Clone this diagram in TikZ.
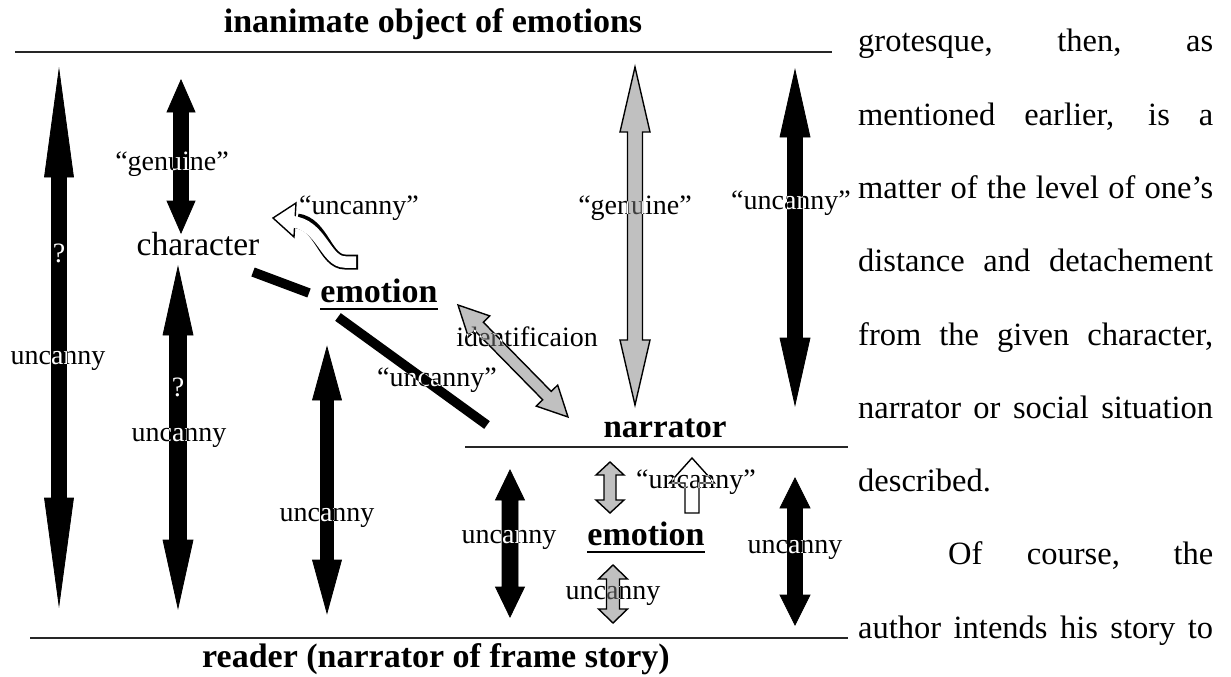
\documentclass[tikz,border=0pt]{standalone}
\usepackage{fontspec}
\setmainfont{Liberation Serif}
\usetikzlibrary{calc}
\definecolor{arrowgray}{RGB}{192,192,192}
% double block arrow: #1 style, #2 end A, #3 end B, #4 head length, #5 head half width, #6 shaft half width
\newcommand{\BDArrow}[6]{%
  \draw[#1] (#2) -- ($(#2)!#4!(#3)!#5!90:(#3)$) -- ($(#2)!#4!(#3)!#6!90:(#3)$)
    -- ($(#3)!#4!(#2)!#6!-90:(#2)$) -- ($(#3)!#4!(#2)!#5!-90:(#2)$) -- (#3)
    -- ($(#3)!#4!(#2)!#5!90:(#2)$) -- ($(#3)!#4!(#2)!#6!90:(#2)$)
    -- ($(#2)!#4!(#3)!#6!-90:(#3)$) -- ($(#2)!#4!(#3)!#5!-90:(#3)$) -- cycle;}
% single block arrow: #2 tail, #3 tip
\newcommand{\BSArrow}[6]{%
  \draw[#1] (#3) -- ($(#3)!#4!(#2)!#5!90:(#2)$) -- ($(#3)!#4!(#2)!#6!90:(#2)$)
    -- ($(#2)!#6!-90:(#3)$) -- ($(#2)!#6!90:(#3)$)
    -- ($(#3)!#4!(#2)!#6!-90:(#2)$) -- ($(#3)!#4!(#2)!#5!-90:(#2)$) -- cycle;}
\begin{document}
\begin{tikzpicture}[x=1pt,y=-1pt,
  blk/.style={fill=black,draw=black,line width=0.8pt,line join=miter},
  gry/.style={fill=arrowgray,draw=black,line width=1.4pt},
  hol/.style={fill=white,draw=black,line width=1.4pt},
  rulex/.style={line width=2.2pt,draw=black!85},
  barx/.style={line width=9.5pt,draw=black},
  lbl/.style={font=\fontsize{28}{30}\selectfont,inner sep=0pt,anchor=base,text=white,blend mode=difference},
  headx/.style={font=\bfseries\fontsize{34}{36}\selectfont,inner sep=0pt,anchor=base},
  body/.style={font=\fontsize{32.5}{34}\selectfont,inner sep=0pt,anchor=base west}]
\useasboundingbox (0,0) rectangle (1231,677);
\fill[white] (0,0) rectangle (1231,677);

% rules
\coordinate (topL) at (15,52);   \coordinate (topR) at (832,52);
\coordinate (narL) at (465,447); \coordinate (narR) at (848,447);
\coordinate (botL) at (30,638);  \coordinate (botR) at (848,638);
\draw[rulex] (topL) -- (topR);
\draw[rulex] (narL) -- (narR);
\draw[rulex] (botL) -- (botR);

% headings and main nodes
\node[headx] (inanimate) at (433,33) {inanimate object of emotions};
\node[headx] (reader) at (436,667) {reader (narrator of frame story)};
\node[headx,font=\bfseries\fontsize{33}{35}\selectfont] (narrator) at (665,437) {narrator};
\node[headx] (emoA) at (379,302) {emotion};
\draw[line width=2pt] ([yshift=-6.5pt]emoA.base west) -- ([yshift=-6.5pt]emoA.base east);
\node[headx] (emoB) at (646,545) {emotion};
\draw[line width=2pt] ([yshift=-7pt]emoB.base west) -- ([yshift=-7pt]emoB.base east);
\node[font=\fontsize{33.5}{35}\selectfont,inner sep=0pt,anchor=base] (character) at (198,255) {character};

% arrow end points
\coordinate (a1t) at (59,70);   \coordinate (a1b) at (59,605);
\coordinate (a2t) at (181,80);  \coordinate (a2b) at (181,233);
\coordinate (a3t) at (178,267); \coordinate (a3b) at (178,608);
\coordinate (a4t) at (327,347); \coordinate (a4b) at (327,613);
\coordinate (a5t) at (635,67);  \coordinate (a5b) at (635,405);
\coordinate (a6t) at (795,70);  \coordinate (a6b) at (795,405);
\coordinate (a7t) at (458,305); \coordinate (a7b) at (568,417);
\coordinate (a8t) at (510,470); \coordinate (a8b) at (510,617);
\coordinate (a9t) at (795,478); \coordinate (a9b) at (795,625);
\coordinate (g1t) at (610,462); \coordinate (g1b) at (610,513);
\coordinate (g2t) at (613,565); \coordinate (g2b) at (613,623);
\coordinate (w1tail) at (692,513); \coordinate (w1tip) at (692,458);

\BDArrow{blk}{a1t}{a1b}{107pt}{14.5pt}{7.5pt}
\BDArrow{blk}{a2t}{a2b}{32pt}{14pt}{7.5pt}
\BDArrow{blk}{a3t}{a3b}{68pt}{15pt}{8.5pt}
\BDArrow{blk}{a4t}{a4b}{53pt}{14.5pt}{6.5pt}
\BDArrow{gry}{a5t}{a5b}{65pt}{15pt}{7.5pt}
\BDArrow{blk}{a6t}{a6b}{67pt}{15pt}{7.5pt}
\BDArrow{gry}{a7t}{a7b}{30pt}{15pt}{6pt}
\BDArrow{blk}{a8t}{a8b}{30pt}{14.5pt}{8pt}
\BDArrow{blk}{a9t}{a9b}{30pt}{15pt}{7.5pt}
\BDArrow{gry}{g1t}{g1b}{13pt}{14pt}{6pt}
\BDArrow{gry}{g2t}{g2b}{14pt}{14.5pt}{6.5pt}
\BSArrow{hol}{w1tail}{w1tip}{25pt}{22.5pt}{7pt}

% thick connector bars
\coordinate (b1a) at (253,272); \coordinate (b1b) at (309,293);
\coordinate (b2a) at (338,317); \coordinate (b2b) at (487,425);
\draw[barx] (b1a) -- (b1b);
\draw[barx] (b2a) -- (b2b);

% curved hollow arrow
\coordinate (cvT) at (358,262); \coordinate (cvH) at (273,218);
\draw[line width=15pt] (cvT) -- (345,262) .. controls (325,262) and (322,224) .. (297,221);
\draw[hol] (cvH) -- (296,203) -- (294,237) -- cycle;
\draw[white,line width=11.5pt,shorten <=1.8pt] (cvT) -- (345,262) .. controls (325,262) and (322,224) .. (291,221.5);

% labels
\node[lbl] (q1) at (59,262) {?};
\node[lbl] (u1) at (58,364) {uncanny};
\node[lbl] (gen1) at (172,170) {“genuine”};
\node[lbl] (q2) at (178,396) {?};
\node[lbl] (u2) at (179,441) {uncanny};
\node[lbl] (u3) at (327,521) {uncanny};
\node[lbl] (uc1) at (359,214) {“uncanny”};
\node[lbl] (uc2) at (437,386) {“uncanny”};
\node[lbl] (ident) at (527,346) {identificaion};
\node[lbl] (gen2) at (635,214) {“genuine”};
\node[lbl] (uc3) at (791,209) {“uncanny”};
\node[lbl] (u4) at (509,543) {uncanny};
\node[lbl] (uc4) at (696,488) {“uncanny”};
\node[lbl] (u5) at (613,599) {uncanny};
\node[lbl] (u6) at (795,553) {uncanny};

% body text on the right
\node[body] (t1) at (858,52)     {\makebox[355pt][s]{grotesque, then, as}};
\node[body] (t2) at (858,125.25) {\makebox[355pt][s]{mentioned earlier, is a}};
\node[body] (t3) at (858,198.5)  {\makebox[355pt][s]{matter of the level of one’s}};
\node[body] (t4) at (858,271.75) {\makebox[355pt][s]{distance and detachement}};
\node[body] (t5) at (858,345)    {\makebox[355pt][s]{from the given character,}};
\node[body] (t6) at (858,418.25) {\makebox[355pt][s]{narrator or social situation}};
\node[body] (t7) at (858,491.5)  {described.};
\node[body] (t8) at (948,564.75) {\makebox[265pt][s]{Of course, the}};
\node[body] (t9) at (858,638)    {\makebox[355pt][s]{author intends his story to}};
\end{tikzpicture}
\end{document}
